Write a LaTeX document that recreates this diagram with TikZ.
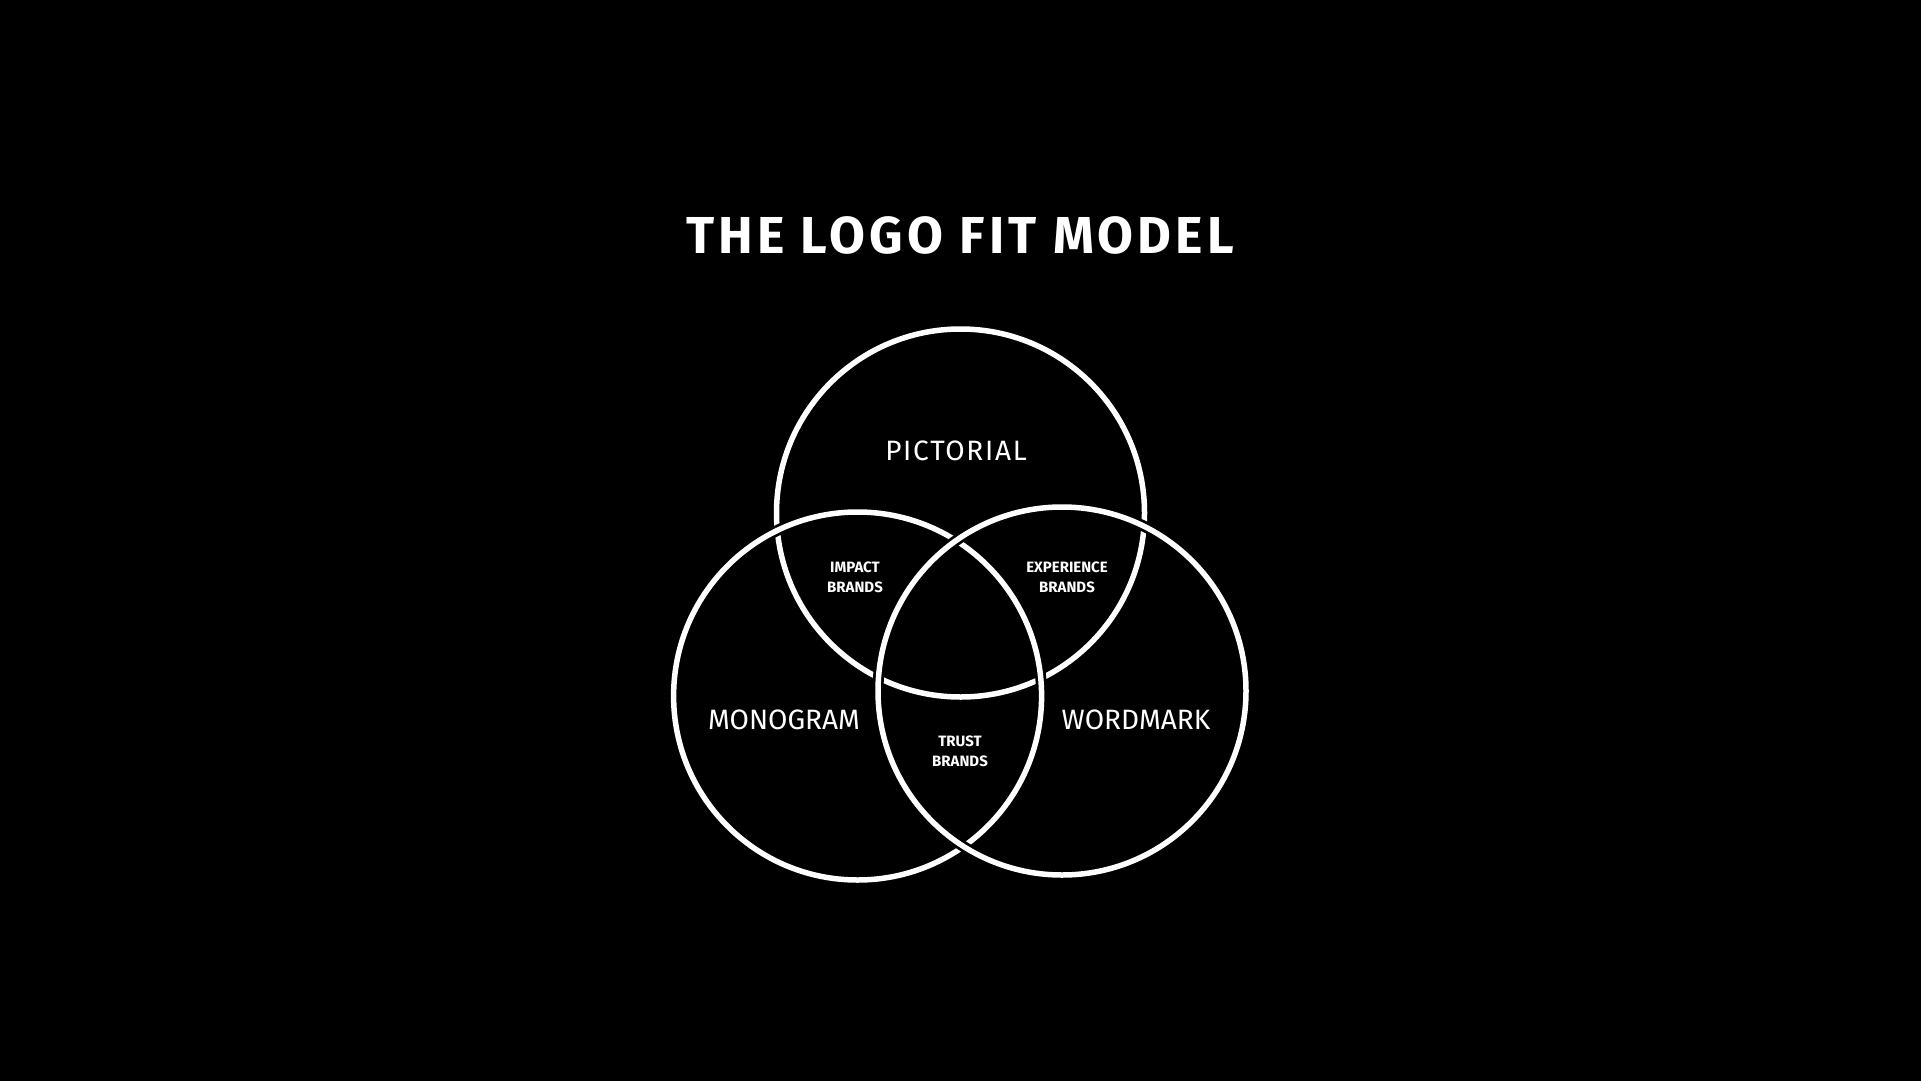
\documentclass[tikz,border=0pt]{standalone}
\usepackage{fontspec}
\setmainfont{Fira Sans}
\begin{document}
\begin{tikzpicture}[x=1pt,y=-1pt,
  ring/.style={draw=white,line width=5.5pt},
  gap/.style={draw=black,line width=11pt},
  big/.style={text=white,font=\fontsize{28}{30}\selectfont,inner sep=0pt},
  small/.style={text=white,font=\bfseries\fontsize{15}{20}\selectfont,align=center,inner sep=0pt}]
\fill[black] (0,0) rectangle (1921,1081);
\useasboundingbox (0,0) rectangle (1921,1081);
\node[text=white,font=\bfseries\fontsize{52}{56}\selectfont\addfontfeatures{LetterSpace=8},inner sep=0pt] (title) at (960,235) {THE LOGO FIT MODEL};
% circles
\coordinate (cp) at (960.5,513);
\coordinate (cm) at (857.6,696);
\coordinate (cw) at (1062,691);
\draw[gap] (cp) circle[radius=184];
\draw[ring] (cp) circle[radius=184];
\draw[gap] (cm) circle[radius=184];
\draw[ring] (cm) circle[radius=184];
\draw[gap] (cw) circle[radius=184];
\draw[ring] (cw) circle[radius=184];
\node[big,font=\fontsize{28}{30}\selectfont\addfontfeatures{LetterSpace=6}] (pict) at (956,451) {PICTORIAL};
\node[big] (mono) at (784,720) {MONOGRAM};
\node[big] (word) at (1136,720) {WORDMARK};
\node[small] (impact) at (855,577) {IMPACT\\BRANDS};
\node[small] (exp) at (1067,577) {EXPERIENCE\\BRANDS};
\node[small] (trust) at (960,751) {TRUST\\BRANDS};
\end{tikzpicture}
\end{document}
